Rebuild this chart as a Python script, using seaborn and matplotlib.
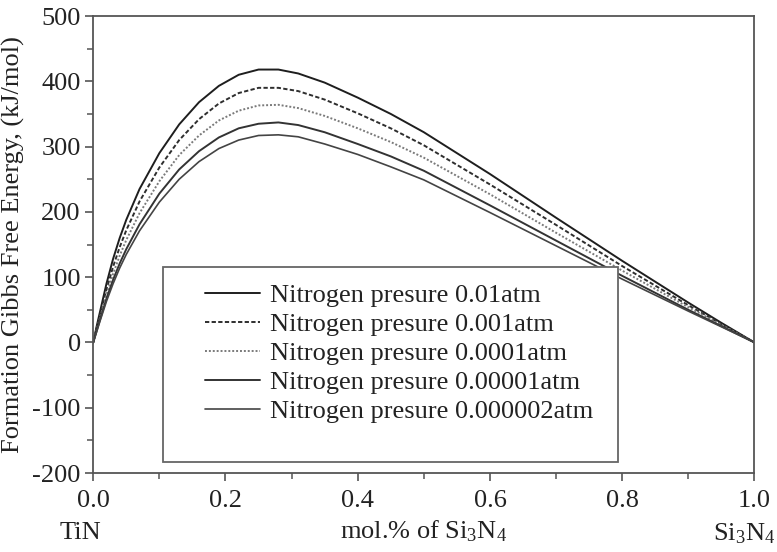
import pandas as pd
import seaborn as sns
import matplotlib.pyplot as plt
from matplotlib.ticker import MultipleLocator
from matplotlib.patches import Rectangle

# mole fraction of Si3N4 and formation Gibbs energy (kJ/mol)
x_frac = [0, 0.005, 0.01, 0.02, 0.03, 0.04, 0.05, 0.07, 0.1, 0.13, 0.16, 0.19,
          0.22, 0.25, 0.28, 0.31, 0.35, 0.4, 0.45, 0.5, 0.6, 0.7, 0.8, 0.9,
          0.95, 1.0]
g_1e2 = [0, 24, 46, 90, 128, 160, 188, 235, 290, 334, 368, 393,
         410, 418, 418, 412, 398, 375, 350, 322, 258, 191, 125, 61, 30, 0]
g_1e3 = [0, 21, 41, 81, 116, 146, 172, 216, 268, 310, 342, 366,
         382, 390, 390, 385, 372, 351, 328, 302, 242, 180, 117, 57, 28, 0]
g_1e4 = [0, 19, 37, 73, 105, 133, 157, 198, 247, 287, 317, 340,
         355, 363, 364, 359, 347, 328, 307, 283, 227, 168, 110, 54, 27, 0]
g_1e5 = [0, 17, 34, 67, 96, 121, 143, 181, 228, 265, 293, 314,
         328, 335, 337, 333, 322, 304, 285, 263, 210, 156, 102, 50, 25, 0]
g_2e6 = [0, 16, 32, 63, 90, 114, 135, 171, 215, 250, 277, 297,
         310, 317, 318, 315, 304, 288, 269, 249, 199, 148, 97, 48, 24, 0]

labels = ["Nitrogen presure 0.01atm", "Nitrogen presure 0.001atm",
          "Nitrogen presure 0.0001atm", "Nitrogen presure 0.00001atm",
          "Nitrogen presure 0.000002atm"]
series = [g_1e2, g_1e3, g_1e4, g_1e5, g_2e6]

colors = ["#1e1e1e", "#2e2e2e", "#7a7a7a", "#333333", "#444444"]
styles = ["-", (0, (2.2, 1.2)), (0, (1, 1)), "-", "-"]
widths = [1.4, 1.4, 1.4, 1.4, 1.2]

sns.set_style("ticks")
plt.rcParams['font.family'] = ['Liberation Serif', 'DejaVu Serif']
plt.rcParams['mathtext.fontset'] = 'custom'
plt.rcParams['mathtext.rm'] = 'Liberation Serif'
plt.rcParams['mathtext.it'] = 'Liberation Serif:italic'
plt.rcParams['axes.unicode_minus'] = False
fs = 19

fig = plt.figure(figsize=(7.77, 5.52), dpi=100)
ax = fig.add_axes([0.12, 0.143, 0.851, 0.828])

for vals, lab, c, ls, lw in zip(series, labels, colors, styles, widths):
    df = pd.DataFrame({"x": x_frac, "G": vals})
    sns.lineplot(data=df, x="x", y="G", ax=ax, color=c, linestyle=ls,
                 linewidth=lw, label=lab)

ax.set_xlim(0, 1.0)
ax.set_ylim(-200, 500)
ax.xaxis.set_major_locator(MultipleLocator(0.2))
ax.xaxis.set_minor_locator(MultipleLocator(0.1))
ax.yaxis.set_major_locator(MultipleLocator(100))
ax.yaxis.set_minor_locator(MultipleLocator(50))
ax.set_xticklabels([f"{t:.1f}" for t in ax.get_xticks()])

for sp in ax.spines.values():
    sp.set_color("#555555")
    sp.set_linewidth(1.3)
ax.tick_params(which="major", direction="out", length=6, width=1.2,
               color="#555555", labelsize=fs, labelcolor="#222222", pad=3)
ax.tick_params(axis="x", which="major", pad=6)
ax.tick_params(which="minor", direction="out", length=4, width=1.1,
               color="#555555")

ax.set_ylabel("Formation Gibbs Free Energy, (kJ/mol)", fontsize=fs,
              color="#222222", labelpad=5)
ax.set_xlabel("mol.% of Si$_3$N$_4$", fontsize=fs, color="#222222",
              labelpad=5)
ax.text(-0.02, -0.132, "TiN", transform=ax.transAxes, fontsize=fs,
        color="#222222", ha="center", va="center")
ax.text(0.985, -0.132, "Si$_3$N$_4$", transform=ax.transAxes, fontsize=fs,
        color="#222222", ha="center", va="center")

# legend box, drawn as a frame with the entries placed inside it
ax.add_patch(Rectangle((0.106, 0.024), 0.687, 0.427, transform=ax.transAxes,
                       facecolor="white", edgecolor="#666666", lw=1.3,
                       zorder=3))
leg = ax.legend(loc="upper left", bbox_to_anchor=(0.169, 0.414),
                frameon=False, fontsize=fs, handlelength=2.1,
                handletextpad=0.35, labelspacing=0.21, borderpad=0,
                borderaxespad=0)
leg.set_zorder(4)
for t in leg.get_texts():
    t.set_color("#222222")

plt.savefig("out.png", dpi=100)
